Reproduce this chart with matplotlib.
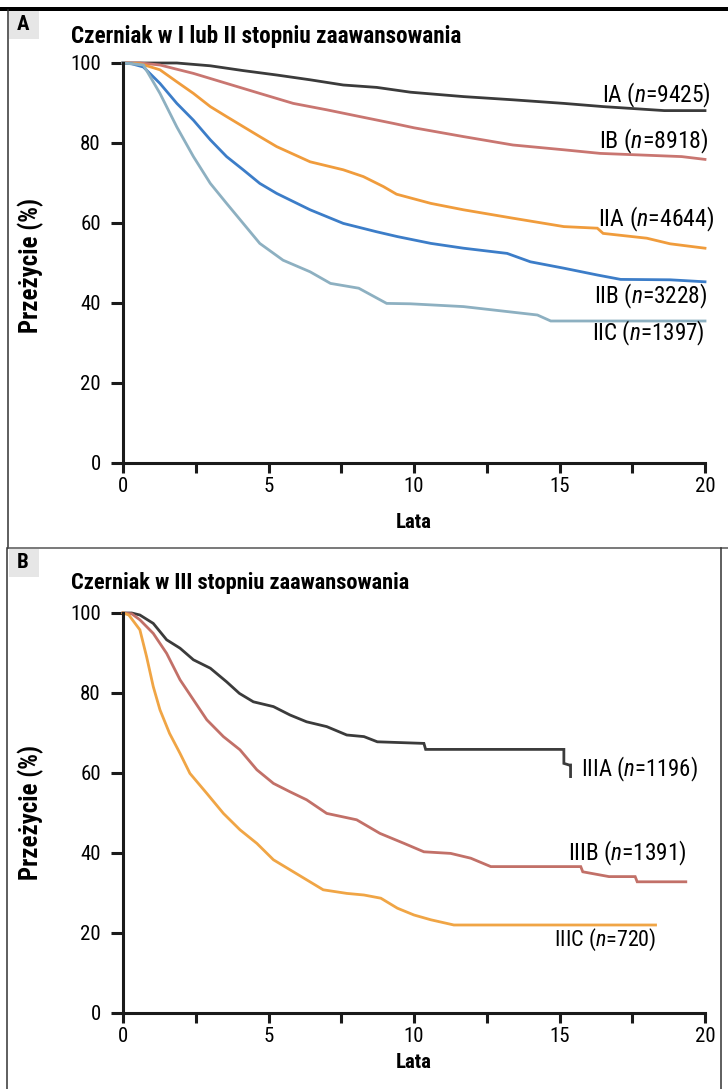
import os
import matplotlib
matplotlib.use('Agg')
import matplotlib.pyplot as plt
from matplotlib import font_manager as fm
from matplotlib.patches import Rectangle
from matplotlib.lines import Line2D

# ---------- pick a condensed sans family if one is installed ----------
names = {}
for f in fm.fontManager.ttflist:
    low = (f.name + ' ' + os.path.basename(f.fname)).lower()
    if 'narrow' in low or 'condensed' in low:
        names.setdefault(f.name, []).append(f)

FAM, STRETCH = 'DejaVu Sans', 'condensed'
priority = ['Liberation Sans Narrow', 'Roboto Condensed', 'Noto Sans Condensed',
            'Open Sans Condensed', 'Arial Narrow', 'Noto Sans', 'Roboto', 'Open Sans', 'DejaVu Sans']
for p in priority:
    if p in names:
        FAM = p
        STRETCH = 'normal' if ('Narrow' in p or 'Condensed' in p) else 'condensed'
        break
else:
    for n in names:
        FAM = n
        STRETCH = 'normal' if ('narrow' in n.lower() or 'condensed' in n.lower()) else 'condensed'
        break

plt.rcParams['font.family'] = [FAM, 'DejaVu Sans']
plt.rcParams['font.stretch'] = STRETCH
plt.rcParams['mathtext.fontset'] = 'custom'
plt.rcParams['mathtext.it'] = FAM + ':italic'
plt.rcParams['mathtext.rm'] = FAM

# ---------------- data ----------------
panel_titles = ["Czerniak w I lub II stopniu zaawansowania",
                "Czerniak w III stopniu zaawansowania"]
x_label = "Lata"
y_label = "Przeżycie (%)"
x_ticks_major = [0, 5, 10, 15, 20]
x_ticks_minor = [2.5, 7.5, 12.5, 17.5]
y_ticks = [0, 20, 40, 60, 80, 100]

IA_t = [0, 1.85, 3.0, 4.13, 5.28, 6.43, 7.57, 8.72, 9.88, 11.7, 13.4, 15.15, 16.5, 18.6, 20]
IA_s = [100, 100, 99.3, 98.1, 97.0, 95.8, 94.5, 93.9, 92.7, 91.6, 90.8, 89.9, 89.1, 88.1, 88.1]

IB_t = [0, 0.6, 1.27, 2.42, 3.56, 4.7, 5.85, 7.0, 8.14, 9.29, 10.0, 11.7, 13.4, 15.15, 16.4, 19.2, 20]
IB_s = [100, 100, 99.5, 97.4, 94.9, 92.4, 89.9, 88.3, 86.6, 84.9, 83.8, 81.6, 79.5, 78.3, 77.4, 76.6, 75.9]

IIA_t = [0, 0.6, 1.27, 1.85, 2.42, 3.0, 3.56, 4.13, 4.7, 5.28, 6.43, 7.57, 8.26, 8.95, 9.4,
         10.58, 11.7, 13.4, 15.15, 16.3, 16.5, 18.0, 18.8, 20]
IIA_s = [100, 99.8, 98.3, 95.3, 92.4, 89.1, 86.6, 84.1, 81.6, 79.1, 75.3, 73.3, 71.6, 69.1, 67.2,
         64.9, 63.3, 61.2, 59.1, 58.7, 57.4, 56.2, 54.8, 53.7]

IIB_t = [0, 0.3, 0.7, 1.27, 1.85, 2.42, 3.0, 3.56, 4.13, 4.7, 5.28, 6.43, 7.57, 8.72, 9.43,
         10.58, 11.7, 13.2, 14.0, 15.15, 16.3, 17.1, 18.8, 20]
IIB_s = [100, 99.8, 99.0, 94.9, 89.9, 85.7, 80.8, 76.6, 73.3, 69.9, 67.4, 63.3, 59.9, 57.8, 56.6,
         54.9, 53.7, 52.4, 50.3, 48.7, 47.0, 45.9, 45.8, 45.3]

IIC_t = [0, 0.3, 0.7, 1.27, 1.85, 2.42, 3.0, 3.56, 4.13, 4.7, 5.5, 6.43, 7.13, 8.1, 9.06,
         9.88, 11.7, 14.24, 14.7, 20]
IIC_s = [100, 99.8, 99.5, 92.4, 84.0, 76.6, 69.9, 64.9, 59.9, 54.9, 50.7, 47.8, 44.9, 43.7, 39.9,
         39.8, 39.1, 37.0, 35.5, 35.5]

IIIA_t = [0, 0.3, 0.58, 1.04, 1.5, 1.96, 2.42, 3.0, 3.56, 4.0, 4.48, 5.17, 5.74, 6.31, 7.0, 7.69,
          8.28, 8.74, 10.34, 10.4, 15.15, 15.15, 15.33, 15.38, 15.38]
IIIA_s = [100, 100, 99.5, 97.4, 93.3, 91.2, 88.3, 86.2, 82.8, 79.9, 77.8, 76.6, 74.5, 72.8, 71.6, 69.5,
          69.1, 67.8, 67.4, 65.9, 65.9, 62.4, 62.0, 62.0, 59.1]

IIIB_t = [0, 0.3, 0.58, 1.04, 1.5, 1.96, 2.42, 2.88, 3.45, 4.02, 4.6, 5.17, 5.74, 6.31, 7.0, 8.03,
          8.83, 9.66, 10.34, 11.26, 11.95, 12.64, 15.73, 15.8, 16.7, 17.6, 17.67, 19.34]
IIIB_s = [100, 99.8, 98.3, 94.9, 89.9, 83.3, 78.3, 73.3, 69.1, 65.8, 60.8, 57.4, 55.3, 53.3, 49.9, 48.3,
          44.9, 42.4, 40.3, 39.9, 38.7, 36.6, 36.6, 35.3, 34.1, 34.1, 32.8, 32.8]

IIIC_t = [0, 0.2, 0.58, 0.81, 1.04, 1.27, 1.6, 1.96, 2.3, 2.88, 3.45, 4.02, 4.6, 5.17, 5.74, 6.31,
          6.88, 7.69, 8.28, 8.86, 9.43, 10.0, 10.58, 11.37, 18.3]
IIIC_s = [100, 99.5, 95.8, 89.1, 81.6, 75.8, 69.9, 64.9, 59.9, 54.9, 49.9, 45.8, 42.4, 38.3, 35.8, 33.3,
          30.8, 29.9, 29.5, 28.7, 26.2, 24.5, 23.3, 22.0, 22.0]

stages_A = ["IA", "IB", "IIA", "IIB", "IIC"]
n_A = [9425, 8918, 4644, 3228, 1397]
stages_B = ["IIIA", "IIIB", "IIIC"]
n_B = [1196, 1391, 720]

# ---------------- styles ----------------
colors_A = ["#3b3b3b", "#c97671", "#f09c3c", "#3c7dc8", "#8db0c1"]
colors_B = ["#3b3b3b", "#c27068", "#f0a545"]
label_pos_A = [(20.2, 92.0), (20.14, 80.3), (20.34, 60.8), (20.07, 41.6), (20.0, 32.5)]
label_pos_B = [(15.75, 60.8), (15.3, 40.0), (14.8, 18.3)]
label_w_A = [109, 110, 117, 114, 113]
label_w_B = [117, 119, 103]

W, H = 728, 1089
fig = plt.figure(figsize=(W / 100, H / 100), dpi=100)
renderer = fig.canvas.get_renderer()

def fx(px):
    return px / W

def fy(py):
    return 1 - py / H

def fit(txt, target, lo=0.72, hi=1.4, vertical=False):
    bb = txt.get_window_extent(renderer)
    w = bb.height if vertical else bb.width
    if w > 0:
        r = min(max(target / w, lo), hi)
        txt.set_fontsize(txt.get_fontsize() * r)

# decorations: frame lines and panel tags
fig.add_artist(Rectangle((0, fy(10.5)), 1, 4 / H, transform=fig.transFigure,
                         facecolor='black', edgecolor='none'))
fig.add_artist(Line2D([fx(8), fx(8)], [fy(10), fy(548)], transform=fig.transFigure,
                      color='#333333', lw=1.1))
fig.add_artist(Line2D([fx(8), 1], [fy(548), fy(548)], transform=fig.transFigure,
                      color='#555555', lw=1.1))
fig.add_artist(Line2D([fx(7), fx(7)], [fy(548), 0], transform=fig.transFigure,
                      color='#333333', lw=1.1))
fig.add_artist(Line2D([fx(721), fx(721)], [fy(548), 0], transform=fig.transFigure,
                      color='#333333', lw=1.1))
for tag, ytop in [("A", 11), ("B", 549)]:
    fig.add_artist(Rectangle((fx(8.5), fy(ytop + 28)), 30.5 / W, 28 / H, transform=fig.transFigure,
                             facecolor='#e6e6e6', edgecolor='none'))
    fig.text(fx(23), fy(ytop + 14), tag, ha='center', va='center', fontsize=15,
             fontweight='bold', color='black')

def setup_axes(ax):
    ax.set_xlim(0, 20)
    ax.set_ylim(0, 100)
    for s in ['top', 'right']:
        ax.spines[s].set_visible(False)
    for s in ['left', 'bottom']:
        ax.spines[s].set_linewidth(2.2)
        ax.spines[s].set_color('#1a1a1a')
    ax.set_xticks(x_ticks_major)
    ax.set_xticks(x_ticks_minor, minor=True)
    ax.set_yticks(y_ticks)
    ax.tick_params(axis='x', which='both', direction='out', length=7, width=2.2,
                   color='#1a1a1a', labelsize=15, pad=3)
    ax.tick_params(axis='y', which='both', direction='out', length=8.5, width=2.2,
                   color='#1a1a1a', labelsize=15, pad=7.5)
    ax.set_facecolor('none')

# panel A
axA = fig.add_axes([fx(123), fy(463), (705 - 123) / W, 400 / H])
setup_axes(axA)
for t, s, c in zip([IA_t, IB_t, IIA_t, IIB_t, IIC_t], [IA_s, IB_s, IIA_s, IIB_s, IIC_s], colors_A):
    axA.plot(t, s, color=c, lw=2.0, clip_on=False, solid_joinstyle='miter')
for st, n, (lx, ly), tw in zip(stages_A, n_A, label_pos_A, label_w_A):
    tx = axA.text(lx, ly, st + " ($n$=" + str(n) + ")", ha='right', va='center',
                  fontsize=15, clip_on=False)
    fit(tx, tw)

# panel B
axB = fig.add_axes([fx(123), fy(1013), (705 - 123) / W, 400 / H])
setup_axes(axB)
for t, s, c in zip([IIIA_t, IIIB_t, IIIC_t], [IIIA_s, IIIB_s, IIIC_s], colors_B):
    axB.plot(t, s, color=c, lw=2.0, clip_on=False, solid_joinstyle='miter')
for st, n, (lx, ly), tw in zip(stages_B, n_B, label_pos_B, label_w_B):
    tx = axB.text(lx, ly, st + " ($n$=" + str(n) + ")", ha='left', va='center',
                  fontsize=15, clip_on=False)
    fit(tx, tw)

# titles and axis labels
for title, ty, tw in zip(panel_titles, [37, 583], [390, 340]):
    tx = fig.text(fx(71), fy(ty), title, ha='left', va='center', fontsize=15, fontweight='bold')
    fit(tx, tw, lo=0.85, hi=1.25)
for yc in [265, 813]:
    tx = fig.text(fx(31), fy(yc), y_label, ha='center', va='center', rotation=90,
                  fontsize=15, fontweight='bold')
    fit(tx, 135, lo=0.85, hi=1.2, vertical=True)
for yc in [522, 1062]:
    tx = fig.text(fx(414), fy(yc), x_label, ha='center', va='center', fontsize=15, fontweight='bold')
    fit(tx, 36, lo=0.85, hi=1.2)

fig.savefig('out.png', dpi=100, facecolor='white')
